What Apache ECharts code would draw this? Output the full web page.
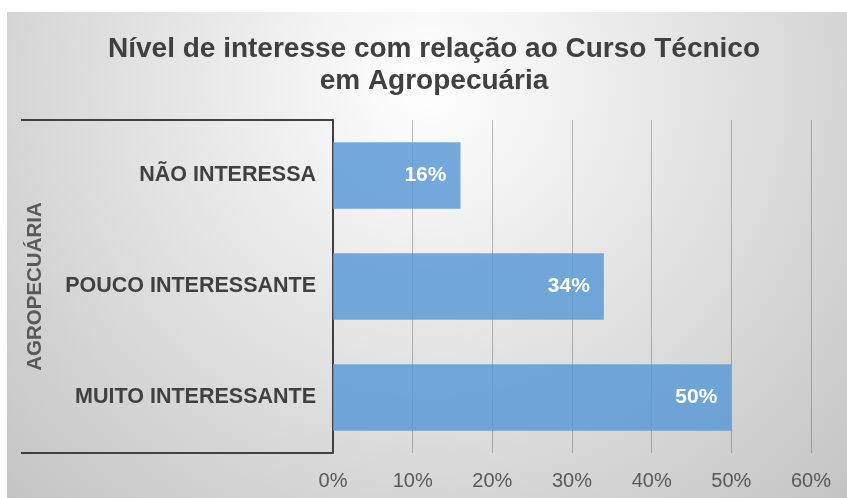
<!DOCTYPE html>
<html>
<head>
<meta charset="utf-8">
<script src="https://cdn.jsdelivr.net/npm/echarts@6/dist/echarts.min.js"></script>
<style>
html, body { margin: 0; padding: 0; background: #fff; }
#main { width: 847px; height: 498px; }
</style>
</head>
<body>
<div id="main"></div>
<script>
// dados do gráfico
var categorias = ['NÃO INTERESSA', 'POUCO INTERESSANTE', 'MUITO INTERESSANTE'];
var valores = [16, 34, 50];
var grupo = ['AGROPECUÁRIA'];
var titulo = ['Nível de interesse com relação ao Curso Técnico', 'em Agropecuária'];

var chart = echarts.init(document.getElementById('main'));
chart.setOption({
    backgroundColor: '#ffffff',
    animation: false,
    graphic: [{
        type: 'rect',
        left: 7, top: 12,
        z: -10,
        shape: { width: 840, height: 486 },
        style: {
            fill: new echarts.graphic.RadialGradient(0.5, 0.15, 1.25, [
                { offset: 0, color: '#ffffff' },
                { offset: 1, color: '#c2c2c2' }
            ])
        }
    }],
    title: {
        text: titulo.join('\n'),
        left: 429,
        top: 28,
        textAlign: 'center',
        textStyle: {
            fontFamily: 'Liberation Sans',
            fontSize: 28,
            fontWeight: 'bold',
            color: '#404040',
            lineHeight: 32
        }
    },
    grid: { left: 333, right: 36, top: 120, bottom: 45, containLabel: false },
    xAxis: {
        type: 'value',
        min: 0, max: 60, interval: 10,
        axisLine: { show: false },
        axisTick: { show: false },
        splitLine: { lineStyle: { color: 'rgba(89,89,89,0.4)', width: 1 } },
        axisLabel: {
            formatter: '{value}%',
            margin: 18,
            fontFamily: 'Liberation Sans',
            fontSize: 20,
            color: '#595959'
        }
    },
    yAxis: [{
        type: 'category',
        data: categorias,
        inverse: true,
        axisLine: { show: true, lineStyle: { color: '#404040', width: 2 } },
        axisTick: { show: false },
        axisLabel: {
            margin: 17,
            fontFamily: 'Liberation Sans',
            fontSize: 21.5,
            fontWeight: 'bold',
            color: '#404040'
        }
    }, {
        type: 'category',
        data: grupo,
        position: 'left',
        axisLine: { show: false },
        axisTick: { show: true, length: 312, lineStyle: { color: '#404040', width: 2 } },
        axisLabel: {
            rotate: 90,
            margin: 287,
            fontFamily: 'Liberation Sans',
            fontSize: 20.5,
            fontWeight: 'bold',
            color: '#595959'
        }
    }],
    series: [{
        type: 'bar',
        data: valores,
        barCategoryGap: '40%',
        itemStyle: { color: 'rgba(91,155,213,0.85)' },
        label: {
            show: true,
            position: 'insideRight',
            distance: 14,
            formatter: '{c}%',
            fontFamily: 'Liberation Sans',
            fontSize: 21,
            fontWeight: 'bold',
            color: '#ffffff'
        }
    }]
});
</script>
</body>
</html>
